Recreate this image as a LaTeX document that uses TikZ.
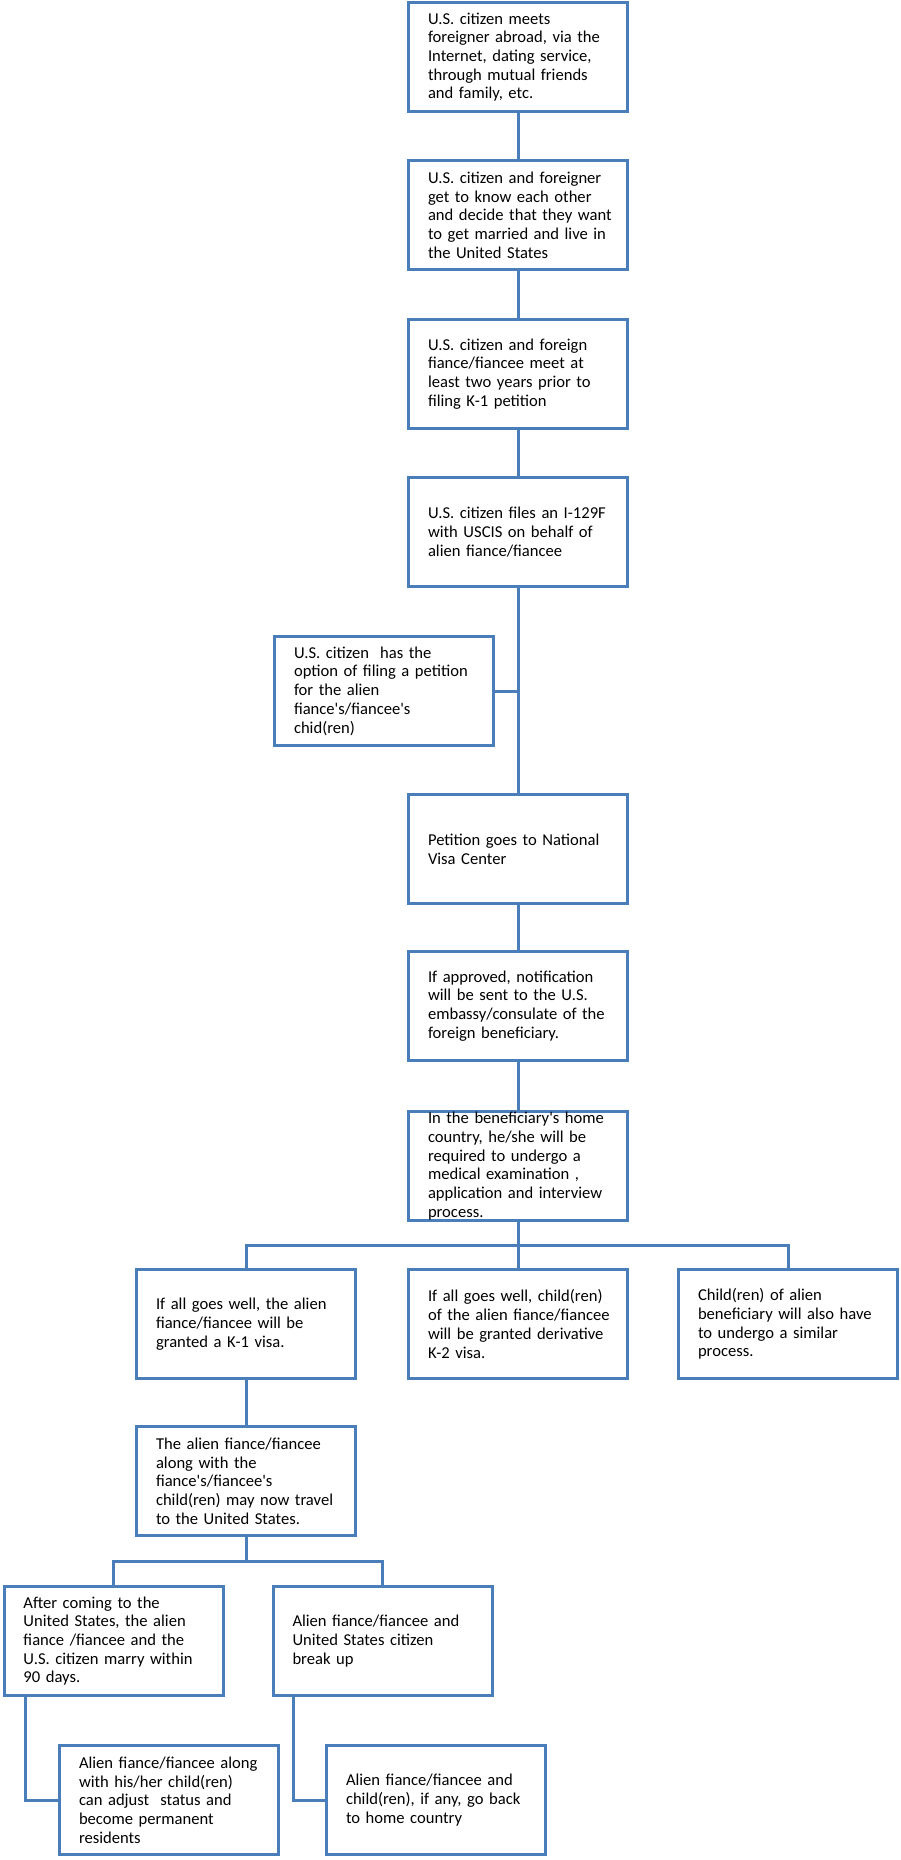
\documentclass[tikz,border=0pt]{standalone}
\usepackage{fontspec}
\setmainfont{Carlito}[Ligatures=TeXOff]
\usetikzlibrary{positioning,calc}

\definecolor{boxline}{HTML}{4A7EBB}

\begin{document}
\begin{tikzpicture}[
  x=1pt, y=1pt,
  stepbox/.style={draw=boxline, line width=3pt, fill=white, rectangle,
    minimum width=219pt, minimum height=109pt, text width=210pt, inner xsep=4.5pt,
    align=left, font=\fontsize{16.6}{18.7}\selectfont,
    execute at begin node={\leftskip=15pt}},
  link/.style={draw=boxline, line width=3pt},
  node distance=46pt and 48pt,
]
  \useasboundingbox (0,0) rectangle (900,-1860);

  % Main column
  \node[stepbox] (meet) at (518,-57) {U.S. citizen meets\\foreigner abroad, via the\\Internet, dating service,\\through mutual friends\\and family, etc.};
  \node[stepbox, below=of meet] (know) {U.S. citizen and foreigner\\get to know each other\\and decide that they want\\to get married and live in\\the United States};
  \node[stepbox, below=47pt of know] (meetup) {U.S. citizen and foreign\\fiance/fiancee meet at\\least two years prior to\\filing K-1 petition};
  \node[stepbox, below=of meetup] (file) {U.S. citizen files an I-129F\\with USCIS on behalf of\\alien fiance/fiancee};
  \node[stepbox, below=47pt of file.south, anchor=north east, xshift=-23pt] (option) {U.S. citizen\ \ has the\\option of filing a petition\\for the alien\\fiance's/fiancee's\\chid(ren)};
  \node[stepbox, below=205pt of file] (nvc) {Petition goes to National\\Visa Center};
  \node[stepbox, below=45pt of nvc] (notify) {If approved, notification\\will be sent to the U.S.\\embassy/consulate of the\\foreign beneficiary.};
  \node[stepbox, below=48pt of notify, inner ysep=0pt] (exam) {In the beneficiary's home\\country, he/she will be\\required to undergo a\\medical examination ,\\application and interview\\process.};

  % Visa row
  \node[stepbox, below=of exam] (visatwo) {If all goes well, child(ren)\\of the alien fiance/fiancee\\will be granted derivative\\K-2 visa.};
  \node[stepbox, left=50pt of visatwo] (visaone) {If all goes well, the alien\\fiance/fiancee will be\\granted a K-1 visa.};
  \node[stepbox, right=of visatwo] (similar) {Child(ren) of alien\\beneficiary will also have\\to undergo a similar\\process.};

  % Travel and outcomes
  \node[stepbox, below=45pt of visaone] (travel) {The alien fiance/fiancee\\along with the\\fiance's/fiancee's\\child(ren) may now travel\\to the United States.};
  \node[stepbox, below=48pt of travel, xshift=-132.5pt] (marry) {After coming to the\\United States, the alien\\fiance /fiancee and the\\U.S. citizen marry within\\90 days.};
  \node[stepbox, right=47pt of marry] (breakup) {Alien fiance/fiancee and\\United States citizen\\break up};
  \node[stepbox, below=47pt of marry, xshift=55.5pt] (adjust) {Alien fiance/fiancee along\\with his/her child(ren)\\can adjust\ \ status and\\become permanent\\residents};
  \node[stepbox, right=45pt of adjust] (home) {Alien fiance/fiancee and\\child(ren), if any, go back\\to home country};

  % Trunk
  \draw[link] (meet) -- (know);
  \draw[link] (know) -- (meetup);
  \draw[link] (meetup) -- (file);
  \draw[link] (file) -- (nvc);
  \draw[link] (option.east) -- (option.east -| file.south);
  \draw[link] (nvc) -- (notify);
  \draw[link] (notify) -- (exam);

  % Split to visa row
  \coordinate (busone) at ($(exam.south)!0.5!(visatwo.north)$);
  \draw[link] (exam.south) -- (visatwo.north);
  \draw[link] (visaone.north) |- (busone) -| (similar.north);
  \draw[link] (visaone) -- (travel);

  % Split to outcomes
  \coordinate (bustwo) at ($(travel.south)!0.5!(travel.south |- marry.north)$);
  \draw[link] (travel.south) -- (bustwo);
  \draw[link] (marry.north) |- (bustwo) -| (breakup.north);
  \draw[link] ([xshift=23pt]marry.south west) |- (adjust.west);
  \draw[link] ([xshift=22pt]breakup.south west) |- (home.west);
\end{tikzpicture}
\end{document}
